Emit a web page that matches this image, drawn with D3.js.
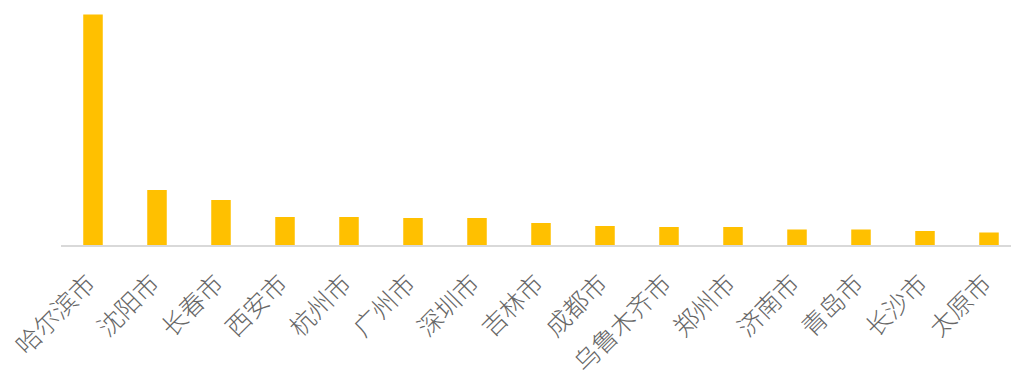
<!DOCTYPE html>
<html>
<head>
<meta charset="utf-8">
<script src="https://cdn.jsdelivr.net/npm/d3@7"></script>
<style>
  html, body { margin: 0; padding: 0; background: #fff; }
  svg { display: block; }
</style>
</head>
<body>
<svg id="chart" width="1011" height="374"></svg>
<script>
// City names along the category axis
const cities = ["哈尔滨市", "沈阳市", "长春市", "西安市", "杭州市", "广州市", "深圳市", "吉林市",
                "成都市", "乌鲁木齐市", "郑州市", "济南市", "青岛市", "长沙市", "太原市"];
// One value per city
const values = [230.5, 55, 45, 28, 28, 27, 27, 22, 19, 18, 18, 15.5, 15.5, 14, 12.5];

const svg = d3.select("#chart");
const baseY = 245;

const x = d3.scaleBand()
  .domain(cities)
  .range([61, 1021])
  .paddingInner(0.695)
  .paddingOuter(0.3475);

const y = d3.scaleLinear()
  .domain([0, d3.max(values)])
  .range([baseY, 14.5]);

// Bars
svg.append("g")
  .selectAll("rect")
  .data(cities)
  .join("rect")
  .attr("x", d => x(d))
  .attr("width", x.bandwidth())
  .attr("y", (d, i) => y(values[i]))
  .attr("height", (d, i) => y(0) - y(values[i]))
  .attr("fill", "#FFC000");

// Category axis line and rotated labels
const axis = d3.axisBottom(x).tickSize(0).tickPadding(0);
const gx = svg.append("g")
  .attr("transform", `translate(0,${baseY + 1})`)
  .call(axis);

gx.select(".domain")
  .attr("stroke", "#d9d9d9")
  .attr("stroke-width", 2)
  .attr("d", "M61,0H1011");

gx.selectAll(".tick text")
  .attr("font-family", "'Noto Sans CJK SC', 'Noto Sans', sans-serif")
  .attr("font-size", 25)
  .attr("font-weight", 300)
  .attr("fill", "#666666")
  .attr("text-anchor", "end")
  .attr("dy", "0.35em")
  .attr("y", 0)
  .attr("transform", "translate(-2,33) rotate(-45)");
</script>
</body>
</html>
